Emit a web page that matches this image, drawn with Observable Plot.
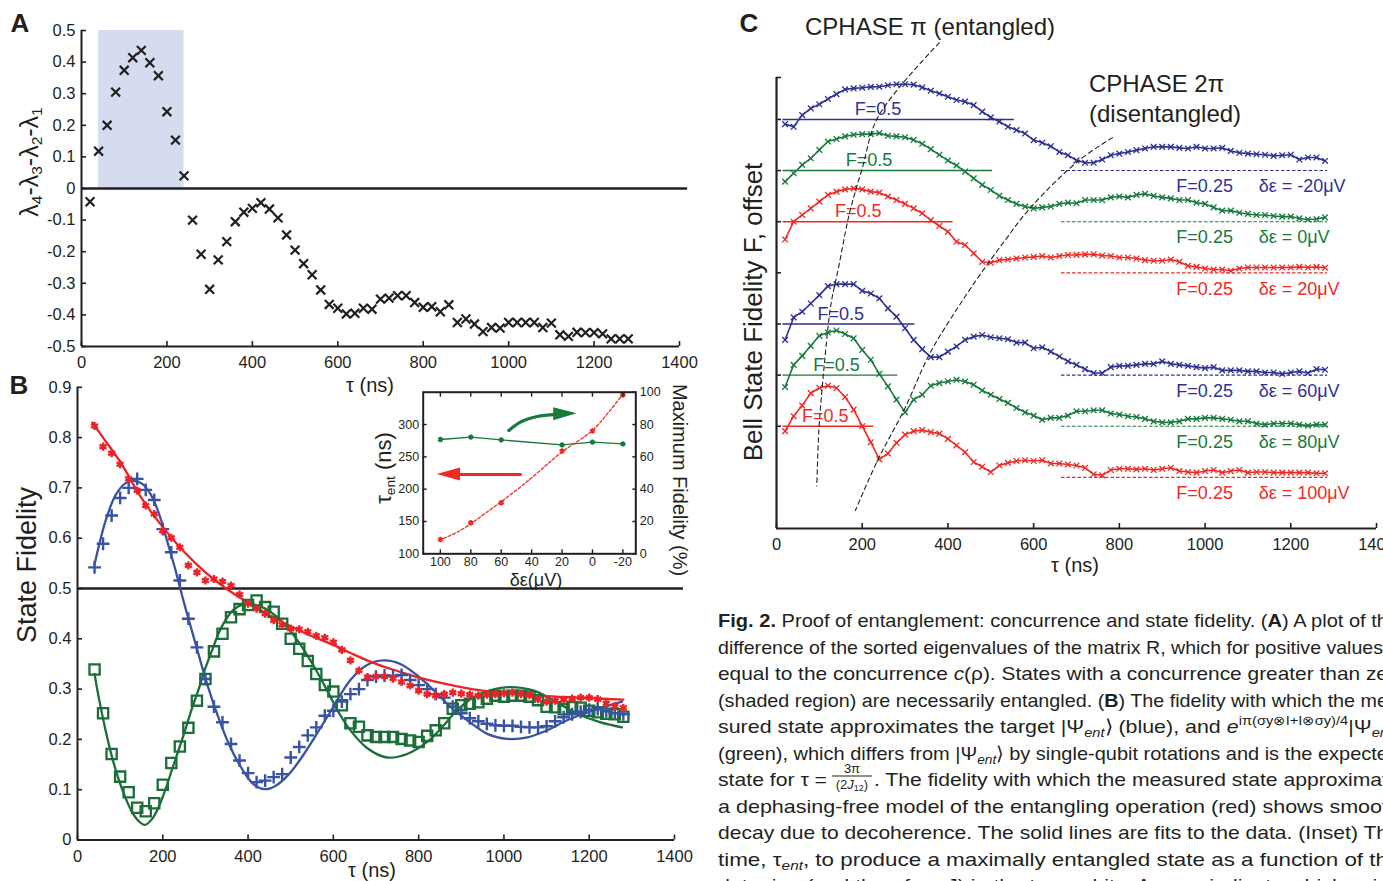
<!DOCTYPE html>
<html><head><meta charset="utf-8">
<script src="https://cdn.jsdelivr.net/npm/d3@7"></script>
<script src="https://cdn.jsdelivr.net/npm/@observablehq/plot@0.6"></script>
<style>
html,body{margin:0;padding:0;background:#fff;overflow:hidden;}
#page{position:relative;width:1383px;height:881px;overflow:hidden;background:#fff;font-family:"Liberation Sans",Arial,Helvetica,sans-serif;color:#231f20;}
.lbl{position:absolute;white-space:nowrap;line-height:1;}
.c{transform:translate(-50%,-50%);}
.l{transform:translate(0,-50%);}
.rl{transform:translate(-50%,-50%) rotate(-90deg);}
.rr{transform:translate(-50%,-50%) rotate(90deg);}
sub{font-size:0.62em;vertical-align:-0.28em;line-height:0;}
</style></head>
<body><div id="page"></div>
<script>
// ---------------- DATA ----------------
const tauA = [20,40,60,80,100,120,140,160,180,200,220,240,260,280,300,320,340,360,380,400,420,440,460,480,500,520,540,560,580,600,620,640,660,680,700,720,740,760,780,800,820,840,860,880,900,920,940,960,980,1000,1020,1040,1060,1080,1100,1120,1140,1160,1180,1200,1220,1240,1260,1280];
// Panel A: lambda4-lambda3-lambda2-lambda1
const aValues = [-0.042,0.118,0.200,0.305,0.374,0.414,0.437,0.398,0.357,0.243,0.153,0.040,-0.100,-0.208,-0.319,-0.226,-0.168,-0.105,-0.075,-0.063,-0.045,-0.065,-0.093,-0.147,-0.195,-0.238,-0.273,-0.321,-0.367,-0.379,-0.397,-0.395,-0.379,-0.382,-0.350,-0.347,-0.339,-0.339,-0.361,-0.376,-0.374,-0.390,-0.368,-0.424,-0.413,-0.429,-0.453,-0.440,-0.442,-0.424,-0.424,-0.424,-0.424,-0.440,-0.426,-0.463,-0.468,-0.455,-0.456,-0.456,-0.460,-0.476,-0.476,-0.476];
const aShade = [{x1: 40, x2: 240, y1: 0, y2: 0.5}];
const xTicks = [0,200,400,600,800,1000,1200,1400];
const aYTicks = [-0.5,-0.4,-0.3,-0.2,-0.1,0,0.1,0.2,0.3,0.4,0.5];

// Panel B: state fidelity (tau 40..1280)
const tauB = tauA.slice(1);
const bRed = [0.823,0.782,0.769,0.747,0.718,0.695,0.665,0.648,0.615,0.601,0.582,0.546,0.532,0.516,0.519,0.514,0.506,0.488,0.470,0.460,0.450,0.437,0.428,0.420,0.419,0.414,0.406,0.402,0.393,0.378,0.357,0.337,0.324,0.325,0.325,0.321,0.314,0.307,0.297,0.290,0.287,0.290,0.293,0.291,0.289,0.287,0.289,0.290,0.292,0.293,0.290,0.288,0.280,0.275,0.277,0.279,0.281,0.283,0.283,0.280,0.272,0.266,0.263];
const bBlue = [0.542,0.589,0.645,0.680,0.700,0.718,0.696,0.676,0.618,0.572,0.516,0.440,0.383,0.320,0.265,0.234,0.191,0.158,0.133,0.115,0.118,0.125,0.131,0.164,0.185,0.208,0.224,0.247,0.257,0.275,0.290,0.300,0.318,0.325,0.327,0.326,0.328,0.318,0.308,0.300,0.290,0.283,0.265,0.252,0.242,0.236,0.231,0.228,0.227,0.227,0.225,0.224,0.224,0.226,0.236,0.244,0.250,0.255,0.259,0.260,0.256,0.252,0.250];
const bGreen = [0.339,0.252,0.171,0.126,0.095,0.064,0.057,0.073,0.110,0.153,0.186,0.223,0.277,0.320,0.375,0.410,0.443,0.459,0.467,0.476,0.463,0.454,0.430,0.400,0.380,0.356,0.330,0.308,0.295,0.268,0.232,0.225,0.208,0.205,0.205,0.205,0.201,0.198,0.195,0.207,0.218,0.232,0.261,0.268,0.271,0.274,0.281,0.287,0.285,0.287,0.287,0.285,0.278,0.265,0.264,0.260,0.264,0.263,0.257,0.254,0.251,0.250,0.245];
const bRedFitTau = [35,60,100,150,200,250,300,350,400,450,500,550,600,650,700,750,800,850,900,950,1000,1100,1200,1280];
const bRedFitF   = [0.830,0.800,0.752,0.680,0.622,0.573,0.532,0.499,0.472,0.447,0.425,0.405,0.388,0.368,0.350,0.336,0.323,0.313,0.304,0.297,0.292,0.286,0.282,0.279];
const bBlueFitTau = [40,66,89,112,132,152,171,191,210,230,249,277,304,332,355,379,402,421,441,465,496,528,559,593,640,679,718,757,797,836,875,914,961,1008,1055,1101,1148,1211,1277];
const bBlueFitF   = [0.548,0.635,0.685,0.709,0.714,0.708,0.688,0.649,0.595,0.536,0.474,0.390,0.310,0.240,0.191,0.151,0.121,0.106,0.101,0.108,0.131,0.167,0.208,0.255,0.318,0.348,0.357,0.350,0.327,0.297,0.264,0.238,0.211,0.201,0.204,0.218,0.238,0.258,0.275];
const bGreenFitTau = [40,49,65,80,96,112,127,143,158,175,191,206,222,238,253,269,285,300,316,331,347,366,390,415,440,464,495,527,558,590,615,640,679,726,773,820,859,890,929,969,1015,1070,1117,1172,1227,1277];
const bGreenFitF   = [0.330,0.287,0.221,0.168,0.122,0.085,0.057,0.038,0.030,0.042,0.067,0.100,0.141,0.181,0.220,0.263,0.302,0.342,0.378,0.411,0.437,0.458,0.469,0.468,0.460,0.446,0.420,0.383,0.340,0.290,0.250,0.218,0.183,0.164,0.171,0.195,0.228,0.258,0.284,0.298,0.304,0.297,0.277,0.251,0.234,0.224];
const bYTicks = [0,0.1,0.2,0.3,0.4,0.5,0.6,0.7,0.8,0.9];

// Inset: tau_ent and maximum fidelity vs detuning
const insetDe = [100,80,60,20,0,-20];
const insetTauEnt = [122,148,179,259,290,346];
const insetMaxFid = [70.7,72.2,70.5,67.4,69.1,68.0];
const insetFitDe  = [101,86.9,69.4,47.5,34.4,20.2,0.1,-11.5,-19.6,-22.4];
const insetFitTau = [120.6,136.1,164.4,203.1,228.9,257.2,290.7,321.6,344.8,350];
const insetXTicks = [100,80,60,40,20,0,-20];
const insetLTicks = [100,150,200,250,300];
const insetRTicks = [0,20,40,60,80,100];
const redArrowShaft = [{x: 47.3, y: 222.7}, {x: 88, y: 222.7}];
const redArrowHead = [{x: 86.8, y1: 212.7, y2: 232.7}, {x: 102.1, y1: 222.7, y2: 222.7}];
const greenArrowShaft = [{x: 55, y: 76.3}, {x: 47.4, y: 81.5}, {x: 36.4, y: 85.0}, {x: 24, y: 86.3}];
const greenArrowHead = [{x: 25.5, y1: 82.4, y2: 90.4}, {x: 10.1, y1: 86.6, y2: 86.6}];

// Panel C: Bell state fidelity, offset curves
const tauC = tauA;
const cM20 = [0.477,0.464,0.521,0.554,0.574,0.600,0.624,0.647,0.652,0.655,0.659,0.660,0.667,0.672,0.672,0.670,0.657,0.640,0.627,0.611,0.595,0.587,0.570,0.538,0.510,0.489,0.464,0.448,0.431,0.399,0.386,0.369,0.341,0.325,0.300,0.288,0.288,0.304,0.325,0.333,0.341,0.350,0.358,0.366,0.366,0.366,0.361,0.358,0.366,0.358,0.358,0.361,0.346,0.337,0.333,0.330,0.327,0.322,0.325,0.327,0.304,0.314,0.314,0.297];
const c0 = [0.446,0.487,0.528,0.560,0.601,0.642,0.654,0.667,0.675,0.678,0.678,0.683,0.670,0.667,0.663,0.650,0.631,0.605,0.577,0.549,0.525,0.495,0.462,0.430,0.405,0.376,0.356,0.337,0.324,0.315,0.320,0.324,0.337,0.343,0.340,0.356,0.356,0.356,0.369,0.373,0.369,0.381,0.386,0.376,0.369,0.364,0.356,0.356,0.343,0.337,0.320,0.304,0.304,0.294,0.288,0.283,0.283,0.278,0.275,0.275,0.266,0.261,0.263,0.271];
const c20 = [0.413,0.500,0.533,0.565,0.598,0.631,0.647,0.658,0.663,0.658,0.647,0.642,0.623,0.606,0.587,0.565,0.541,0.508,0.479,0.451,0.402,0.386,0.345,0.304,0.299,0.312,0.315,0.320,0.325,0.328,0.332,0.325,0.332,0.337,0.338,0.340,0.341,0.335,0.332,0.325,0.325,0.320,0.312,0.309,0.309,0.315,0.304,0.284,0.279,0.271,0.266,0.266,0.260,0.271,0.276,0.276,0.276,0.276,0.276,0.276,0.279,0.276,0.279,0.275];
const c60 = [0.422,0.532,0.560,0.600,0.641,0.685,0.695,0.695,0.695,0.662,0.649,0.625,0.576,0.536,0.479,0.422,0.377,0.338,0.338,0.365,0.390,0.422,0.438,0.446,0.435,0.430,0.425,0.409,0.409,0.381,0.386,0.365,0.341,0.317,0.300,0.279,0.260,0.260,0.289,0.295,0.295,0.300,0.305,0.305,0.317,0.305,0.300,0.295,0.289,0.284,0.289,0.273,0.273,0.273,0.268,0.268,0.263,0.263,0.256,0.263,0.268,0.260,0.279,0.276];
const c80 = [0.442,0.550,0.594,0.643,0.692,0.708,0.718,0.701,0.680,0.623,0.575,0.506,0.445,0.380,0.318,0.380,0.404,0.448,0.461,0.469,0.477,0.469,0.453,0.425,0.404,0.383,0.364,0.339,0.318,0.302,0.282,0.291,0.291,0.302,0.323,0.323,0.328,0.328,0.312,0.307,0.299,0.295,0.286,0.274,0.269,0.269,0.274,0.286,0.286,0.291,0.291,0.286,0.282,0.274,0.274,0.263,0.258,0.263,0.263,0.263,0.258,0.253,0.258,0.258];
const c100 = [0.476,0.549,0.601,0.662,0.687,0.698,0.687,0.643,0.581,0.500,0.422,0.338,0.367,0.419,0.459,0.476,0.481,0.471,0.464,0.438,0.406,0.373,0.325,0.302,0.276,0.308,0.321,0.330,0.334,0.330,0.334,0.318,0.318,0.313,0.308,0.297,0.265,0.260,0.286,0.292,0.292,0.289,0.292,0.286,0.292,0.297,0.281,0.276,0.273,0.281,0.286,0.273,0.281,0.286,0.273,0.276,0.276,0.273,0.273,0.273,0.273,0.273,0.270,0.270];
const cDetuning = ["-20","0","20","60","80","100"];
const cOffsets = [1.5,1.25,1.0,0.5,0.25,0];
const cHalfEnd = [555,504,412,323,283,227];
const cHalfLabelTau = [237,216,191,150,140,114];
const cHalfStart = 15;
const cQuarterRange = [665,1286];
const cQuarterLabelTau = [933,1125];
const cYTicks = [0.5,0.75,1.0,1.25,1.5,1.75,2.0,2.205];
const guidePiTau = [380,237,201,170,145,130,124,109,99,94];
const guidePiV   = [2.375,2.013,1.768,1.539,1.278,1.131,1.052,0.744,0.484,0.208];
const guide2PiTau = [784,706,594,533,466,390,354,298,237,184];
const guide2PiV   = [1.911,1.800,1.572,1.408,1.214,0.971,0.841,0.581,0.338,0.088];

// ---------------- STYLE ----------------
const INK = "#231f20";
const BLUE_B = "#3953a4", GREEN_B = "#1a6e38", RED_B = "#ec2227";
const BLUE_C = "#2e3192", GREEN_C = "#177a3c", RED_C = "#ee2a24";
const cColors = [BLUE_C, GREEN_C, RED_C, BLUE_C, GREEN_C, RED_C];
const FONT = "'Liberation Sans', Arial, Helvetica, sans-serif";
const STYLE = `background: transparent; overflow: visible; max-width: none; font-family: ${FONT}; font-size: 16.5px; color: ${INK};`;
const STYLE_IN = `background: transparent; overflow: visible; max-width: none; font-family: ${FONT}; font-size: 12.5px; color: ${INK};`;
const fmt1 = d => d === 0 ? "0" : d.toFixed(1);
const page = document.getElementById("page");
function place(svg, left, top) {
  svg.style.position = "absolute"; svg.style.left = left + "px"; svg.style.top = top + "px";
  page.appendChild(svg);
}
const zipXY = (xs, ys, kx = "x", ky = "y") => xs.map((x, i) => ({[kx]: x, [ky]: ys[i]}));

// ---------------- PANEL A ----------------
const aPts = zipXY(tauA, aValues, "t", "v");
place(Plot.plot({
  width: 700, height: 400, marginLeft: 81, marginRight: 21, marginTop: 30, marginBottom: 54,
  x: {domain: [0, 1400]}, y: {domain: [-0.5, 0.5]}, style: STYLE,
  marks: [
    Plot.rect(aShade, {x1: "x1", x2: "x2", y1: "y1", y2: "y2", fill: "#d5dcf0"}),
    Plot.ruleY([0], {x1: 0, x2: 1419, stroke: INK, strokeWidth: 2.6}),
    Plot.ruleX([0], {stroke: INK, strokeWidth: 2}),
    Plot.ruleY([-0.5], {x1: 0, x2: 1400, stroke: INK, strokeWidth: 2}),
    Plot.axisX({ticks: xTicks, tickSize: -5, tickPadding: 15, tickFormat: d => String(d), label: null, strokeWidth: 1.6}),
    Plot.axisY({ticks: aYTicks, tickSize: -5, tickPadding: 11, tickFormat: fmt1, label: null, strokeWidth: 1.6}),
    Plot.dot(aPts, {x: "t", y: "v", symbol: "times", r: 4.1, stroke: INK, strokeWidth: 2.2, fill: "none"})
  ]
}), 0, 0);

// ---------------- PANEL B ----------------
const bMk = (vals) => zipXY(tauB, vals, "t", "f");
place(Plot.plot({
  width: 700, height: 511, marginLeft: 77, marginRight: 26, marginTop: 16.8, marginBottom: 41.5,
  x: {domain: [0, 1400]}, y: {domain: [0, 0.9]}, style: STYLE,
  marks: [
    Plot.ruleY([0.5], {x1: 0, x2: 1421, stroke: INK, strokeWidth: 2.6}),
    Plot.ruleX([0], {stroke: INK, strokeWidth: 2}),
    Plot.ruleY([0], {x1: 0, x2: 1400, stroke: INK, strokeWidth: 2}),
    Plot.axisX({ticks: xTicks, tickSize: -5, tickPadding: 15, tickFormat: d => String(d), label: null, strokeWidth: 1.6}),
    Plot.axisY({ticks: bYTicks, tickSize: -5, tickPadding: 11, tickFormat: fmt1, label: null, strokeWidth: 1.6}),
    Plot.line(zipXY(bGreenFitTau, bGreenFitF), {x: "x", y: "y", stroke: GREEN_B, strokeWidth: 2.3, curve: "catmull-rom"}),
    Plot.line(zipXY(bBlueFitTau, bBlueFitF), {x: "x", y: "y", stroke: BLUE_B, strokeWidth: 2.3, curve: "catmull-rom"}),
    Plot.line(zipXY(bRedFitTau, bRedFitF), {x: "x", y: "y", stroke: RED_B, strokeWidth: 2.3, curve: "catmull-rom"}),
    Plot.dot(bMk(bGreen), {x: "t", y: "f", symbol: "square2", r: 6.5, stroke: GREEN_B, strokeWidth: 2.3, fill: "none"}),
    Plot.dot(bMk(bBlue), {x: "t", y: "f", symbol: "plus", r: 4.2, stroke: BLUE_B, strokeWidth: 2.4, fill: "none"}),
    Plot.dot(bMk(bRed), {x: "t", y: "f", symbol: "asterisk", r: 3.8, stroke: RED_B, strokeWidth: 2.4, fill: "none"})
  ]
}), 0, 370);

// ---------------- INSET ----------------
const insetM = {width: 340, height: 210, marginLeft: 62.7, marginRight: 64.7, marginTop: 11.7, marginBottom: 36.7};
place(Plot.plot({
  ...insetM, x: {domain: [111.3, -28.5]}, y: {domain: [100, 350]}, style: STYLE_IN,
  marks: [
    Plot.frame({fill: "white"}),
    Plot.line(zipXY(insetFitDe, insetFitTau), {x: "x", y: "y", stroke: RED_C, strokeWidth: 1.3, strokeDasharray: "3,2", curve: "catmull-rom"}),
    Plot.dot(zipXY(insetDe, insetTauEnt), {x: "x", y: "y", symbol: "asterisk", r: 2.6, stroke: RED_C, strokeWidth: 2, fill: "none"}),
    Plot.line(redArrowShaft, {x: "x", y: "y", stroke: RED_C, strokeWidth: 3.2}),
    Plot.areaY(redArrowHead, {x: "x", y1: "y1", y2: "y2", fill: RED_C}),
    Plot.axisX({ticks: insetXTicks, anchor: "bottom", tickSize: -4, tickPadding: 7, tickFormat: d => String(d), label: null, strokeWidth: 1.4}),
    Plot.axisX({ticks: insetXTicks, anchor: "top", tickSize: -4, tickFormat: () => "", label: null, strokeWidth: 1.4}),
    Plot.axisY({ticks: insetLTicks, anchor: "left", tickSize: -4, tickPadding: 8, tickFormat: d => String(d), label: null, strokeWidth: 1.4})
  ]
}), 360, 380);
place(Plot.plot({
  ...insetM, x: {domain: [111.3, -28.5], axis: null}, y: {domain: [0, 100]}, style: STYLE_IN,
  marks: [
    Plot.line(zipXY(insetDe, insetMaxFid), {x: "x", y: "y", stroke: GREEN_C, strokeWidth: 1.4}),
    Plot.dot(zipXY(insetDe, insetMaxFid), {x: "x", y: "y", symbol: "asterisk", r: 2.5, stroke: GREEN_C, strokeWidth: 2, fill: "none"}),
    Plot.line(greenArrowShaft, {x: "x", y: "y", stroke: GREEN_C, strokeWidth: 3.2, curve: "catmull-rom"}),
    Plot.areaY(greenArrowHead, {x: "x", y1: "y1", y2: "y2", fill: GREEN_C}),
    Plot.axisY({ticks: insetRTicks, anchor: "right", tickSize: -4, tickPadding: 8, tickFormat: d => String(d), label: null, strokeWidth: 1.4}),
    Plot.frame({stroke: INK, strokeWidth: 2})
  ]
}), 360, 380);

// ---------------- PANEL C ----------------
const cVals = [cM20, c0, c20, c60, c80, c100];
const cMarks = cVals.flatMap((vals, i) => {
  const off = cOffsets[i], col = cColors[i];
  const pts = tauC.map((t, j) => ({t, v: vals[j] + off}));
  const lab = [{name: cDetuning[i], off, lt: cHalfLabelTau[i], end: cHalfEnd[i]}];
  return [
    Plot.ruleY(lab, {y: d => d.off + 0.5, x1: cHalfStart, x2: d => d.end, stroke: col, strokeWidth: 1.4}),
    Plot.ruleY(lab, {y: d => d.off + 0.25, x1: cQuarterRange[0], x2: cQuarterRange[1], stroke: col, strokeWidth: 1.1, strokeDasharray: "3.5,2"}),
    Plot.line(pts, {x: "t", y: "v", stroke: col, strokeWidth: 1.6}),
    Plot.dot(pts, {x: "t", y: "v", symbol: "times", r: 2.7, stroke: col, strokeWidth: 1.3, fill: "none"}),
    Plot.text(lab, {x: "lt", y: d => d.off + 0.5, text: () => "F=0.5", dy: -10, fill: col, fontSize: 18}),
    Plot.text(lab, {x: cQuarterLabelTau[0], y: d => d.off + 0.25, text: () => "F=0.25", dy: 16, textAnchor: "start", fill: col, fontSize: 18}),
    Plot.text(lab, {x: cQuarterLabelTau[1], y: d => d.off + 0.25, text: d => `δε = ${d.name}μV`, dy: 16, textAnchor: "start", fill: col, fontSize: 18})
  ];
});
place(Plot.plot({
  width: 700, height: 600, marginLeft: 76, marginRight: 24, marginTop: 77, marginBottom: 72,
  x: {domain: [0, 1400]}, y: {domain: [0, 2.205]}, style: STYLE,
  marks: [
    Plot.ruleX([0], {stroke: INK, strokeWidth: 2.2}),
    Plot.ruleY([0], {x1: 0, x2: 1400, stroke: INK, strokeWidth: 2.2}),
    Plot.axisX({ticks: xTicks, tickSize: -5, tickPadding: 15, tickFormat: d => String(d), label: null, strokeWidth: 1.6}),
    Plot.axisY({ticks: cYTicks, tickSize: -5, tickFormat: () => "", label: null, strokeWidth: 1.6}),
    ...cMarks,
    Plot.line(zipXY(guidePiTau, guidePiV), {x: "x", y: "y", stroke: INK, strokeWidth: 1.1, strokeDasharray: "4.5,3.5", curve: "catmull-rom"}),
    Plot.line(zipXY(guide2PiTau, guide2PiV), {x: "x", y: "y", stroke: INK, strokeWidth: 1.1, strokeDasharray: "4.5,3.5", curve: "catmull-rom"})
  ]
}), 700, 0);

// ---------------- TEXT LABELS ----------------
function label(html, x, y, size, cls = "c", extra = "") {
  const d = document.createElement("div");
  d.className = "lbl " + cls;
  d.style.cssText += `left:${x}px;top:${y}px;font-size:${size}px;${extra}`;
  d.innerHTML = html;
  page.appendChild(d);
}
label("A", 20, 22.5, 26, "c", "font-weight:bold;");
label("B", 19, 385, 26, "c", "font-weight:bold;");
label("C", 749, 22.5, 26, "c", "font-weight:bold;");
label("λ<sub>4</sub>-λ<sub>3</sub>-λ<sub>2</sub>-λ<sub>1</sub>", 29, 162, 25, "rl");
label("τ (ns)", 370, 385, 20);
label("State Fidelity", 27, 565, 27, "rl");
label("τ (ns)", 372, 870, 20);
label("τ<sub>ent</sub> (ns)", 384, 468, 22, "rl");
label("Maximum Fidelity (%)", 680, 480, 20, "rr");
label("δε(μV)", 536, 580, 18);
label("CPHASE π (entangled)", 805, 27, 24, "l");
label("CPHASE 2π", 1089, 84, 24, "l");
label("(disentangled)", 1089, 114, 24, "l");
label("Bell State Fidelity F, offset", 753, 312, 26, "rl");
label("τ (ns)", 1075, 565, 20);

// ---------------- CAPTION ----------------
const cap = d3.select(page).append("svg")
  .attr("width", 1383).attr("height", 881)
  .style("position", "absolute").style("left", 0).style("top", 0)
  .attr("font-family", "'Liberation Sans Narrow','Liberation Sans',Arial,sans-serif")
  .attr("font-size", 19).attr("fill", INK);
function capLine(x, y, len, segs) {
  const t = cap.append("text").attr("x", x).attr("y", y)
    .attr("textLength", len).attr("lengthAdjust", "spacingAndGlyphs");
  let shift = 0;
  for (const [txt, f = ""] of segs) {
    const sp = t.append("tspan").text(txt);
    const target = f.includes("^") ? -8 : f.includes("_") ? 4 : 0;
    if (target !== shift) { sp.attr("dy", target - shift); shift = target; }
    if (f.includes("b")) sp.attr("font-weight", "bold");
    if (f.includes("i")) sp.attr("font-style", "italic");
    if (target !== 0) sp.attr("font-size", 13);
  }
}
const X0 = 718;
capLine(X0, 627, 670, [["Fig. 2.", "b"], [" Proof of entanglement: concurrence and state fidelity. ("], ["A", "b"], [") A plot of th"]]);
capLine(X0, 653.5, 665, [["difference of the sorted eigenvalues of the matrix R, which for positive values"]]);
capLine(X0, 680, 670, [["equal to the concurrence "], ["c", "i"], ["(ρ). States with a concurrence greater than ze"]]);
capLine(X0, 706.5, 670, [["(shaded region) are necessarily entangled. ("], ["B", "b"], [") The fidelity with which the me"]]);
capLine(X0, 733, 670, [["sured state approximates the target |Ψ"], ["ent", "_i"], ["⟩ (blue), and "], ["e", "i"], ["iπ(σy⊗I+I⊗σy)/4", "^"], ["|Ψ"], ["en", "_i"]]);
capLine(X0, 759.5, 670, [["(green), which differs from |Ψ"], ["ent", "_i"], ["⟩ by single-qubit rotations and is the expecte"]]);
capLine(X0, 786, 109, [["state for τ ="]]);
cap.append("text").attr("x", 852).attr("y", 773).attr("text-anchor", "middle").attr("font-size", 13).text("3π");
cap.append("line").attr("x1", 832).attr("x2", 872).attr("y1", 776).attr("y2", 776).attr("stroke", INK).attr("stroke-width", 1);
const den = cap.append("text").attr("x", 852).attr("y", 789).attr("text-anchor", "middle").attr("font-size", 13);
den.append("tspan").text("(2");
den.append("tspan").attr("font-style", "italic").text("J");
den.append("tspan").attr("font-size", 9).attr("dy", 2).text("12");
den.append("tspan").attr("dy", -2).text(")");
capLine(874, 786, 514, [[". The fidelity with which the measured state approximat"]]);
capLine(X0, 812.5, 670, [["a dephasing-free model of the entangling operation (red) shows smoot"]]);
capLine(X0, 839, 670, [["decay due to decoherence. The solid lines are fits to the data. (Inset) Th"]]);
capLine(X0, 865.5, 670, [["time, τ"], ["ent", "_i"], [", to produce a maximally entangled state as a function of th"]]);
capLine(X0, 892, 670, [["detuning (and therefore J) in the two qubits. Arrows indicate which axis"]]);
</script>
</body></html>
